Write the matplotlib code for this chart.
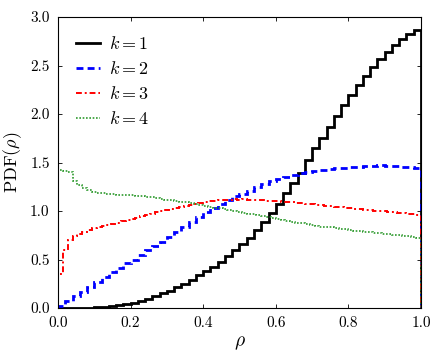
import numpy as np
import matplotlib
matplotlib.use("Agg")
import matplotlib.pyplot as plt

plt.rcParams['font.family'] = 'serif'
plt.rcParams['font.serif'] = ['cmr10']
plt.rcParams['mathtext.fontset'] = 'cm'
plt.rcParams['axes.formatter.use_mathtext'] = True

# histogram heights, k=1 and k=2 on 50 bins, k=3 and k=4 on 75 bins
pdf_k1 = [0.0, 0.0, 0.0005, 0.0015, 0.003, 0.006, 0.011, 0.018, 0.028, 0.04,
          0.055, 0.072, 0.095, 0.12, 0.15, 0.18, 0.213, 0.25, 0.289, 0.337,
          0.381, 0.426, 0.477, 0.536, 0.598, 0.660, 0.725, 0.804, 0.890, 0.976,
          1.068, 1.182, 1.285, 1.395, 1.526, 1.646, 1.75, 1.869, 1.982, 2.093,
          2.196, 2.296, 2.392, 2.481, 2.564, 2.642, 2.711, 2.773, 2.825, 2.866]
pdf_k2 = [0.02, 0.07, 0.12, 0.17, 0.22, 0.27, 0.32, 0.37, 0.41, 0.46,
          0.50, 0.55, 0.60, 0.64, 0.68, 0.73, 0.78, 0.84, 0.89, 0.94,
          0.99, 1.03, 1.07, 1.11, 1.15, 1.18, 1.21, 1.25, 1.28, 1.31,
          1.33, 1.35, 1.37, 1.39, 1.40, 1.41, 1.42, 1.43, 1.44, 1.44,
          1.45, 1.45, 1.46, 1.46, 1.47, 1.46, 1.46, 1.45, 1.45, 1.44]
pdf_k3 = [0.35, 0.60, 0.70, 0.74, 0.76, 0.78, 0.80, 0.82, 0.83, 0.845,
          0.855, 0.87, 0.88, 0.895, 0.905, 0.92, 0.93, 0.945, 0.96, 0.97,
          0.985, 0.995, 1.01, 1.02, 1.035, 1.045, 1.055, 1.065, 1.075, 1.085,
          1.09, 1.10, 1.105, 1.11, 1.115, 1.115, 1.12, 1.115, 1.12, 1.115,
          1.11, 1.115, 1.11, 1.105, 1.10, 1.10, 1.095, 1.095, 1.09, 1.085,
          1.08, 1.075, 1.07, 1.065, 1.06, 1.055, 1.05, 1.045, 1.04, 1.035,
          1.03, 1.025, 1.02, 1.015, 1.01, 1.005, 1.0, 0.995, 0.99, 0.985,
          0.98, 0.975, 0.97, 0.965, 0.96]
pdf_k4 = [1.42, 1.41, 1.40, 1.31, 1.27, 1.24, 1.22, 1.20, 1.19, 1.185,
          1.18, 1.175, 1.17, 1.17, 1.165, 1.16, 1.155, 1.15, 1.145, 1.14,
          1.13, 1.125, 1.115, 1.11, 1.10, 1.095, 1.09, 1.08, 1.07, 1.06,
          1.055, 1.045, 1.035, 1.03, 1.02, 1.01, 1.0, 0.99, 0.98, 0.97,
          0.965, 0.955, 0.945, 0.935, 0.925, 0.915, 0.91, 0.90, 0.89, 0.88,
          0.875, 0.865, 0.86, 0.85, 0.84, 0.835, 0.83, 0.82, 0.815, 0.81,
          0.80, 0.795, 0.79, 0.785, 0.78, 0.775, 0.77, 0.765, 0.76, 0.755,
          0.75, 0.745, 0.74, 0.73, 0.725]

fig = plt.figure(figsize=(4.44, 3.55), dpi=100)
ax = fig.add_axes([0.1306, 0.1324, 0.8176, 0.8196])

series = [
    (pdf_k1, "$k=1$", "black", "-", 2.0),
    (pdf_k2, "$k=2$", "blue", (0, (2.5, 1.5)), 2.0),
    (pdf_k3, "$k=3$", "red", (0, (3, 1.5, 1, 1.5)), 1.4),
    (pdf_k4, "$k=4$", "#2e9a2e", (0, (1, 1)), 1.2),
]
for vals, lab, col, ls, lw in series:
    edges = np.linspace(0, 1, len(vals) + 1)
    ax.stairs(vals, edges, baseline=0, color=col, linestyle=ls, linewidth=lw, label=lab)

ax.set_xlim(0, 1)
ax.set_ylim(0, 3)
ax.set_xticks([0.0, 0.2, 0.4, 0.6, 0.8, 1.0])
ax.set_yticks([0.0, 0.5, 1.0, 1.5, 2.0, 2.5, 3.0])
ax.xaxis.set_major_formatter(matplotlib.ticker.FormatStrFormatter('%.1f'))
ax.yaxis.set_major_formatter(matplotlib.ticker.FormatStrFormatter('%.1f'))
ax.tick_params(direction='in', top=True, right=True, labelsize=11, length=3, width=0.6)
ax.tick_params(axis='x', pad=6)
ax.tick_params(axis='y', pad=6)
for sp in ax.spines.values():
    sp.set_linewidth(0.8)
ax.set_xlabel(r"$\rho$", fontsize=14, labelpad=3)
ax.set_ylabel(r"PDF($\rho$)", fontsize=13, labelpad=4)
ax.legend(loc='upper left', frameon=False, fontsize=13, handlelength=1.3,
          handletextpad=0.5, labelspacing=0.45, borderaxespad=0.6)

fig.savefig("out.png", dpi=100)
